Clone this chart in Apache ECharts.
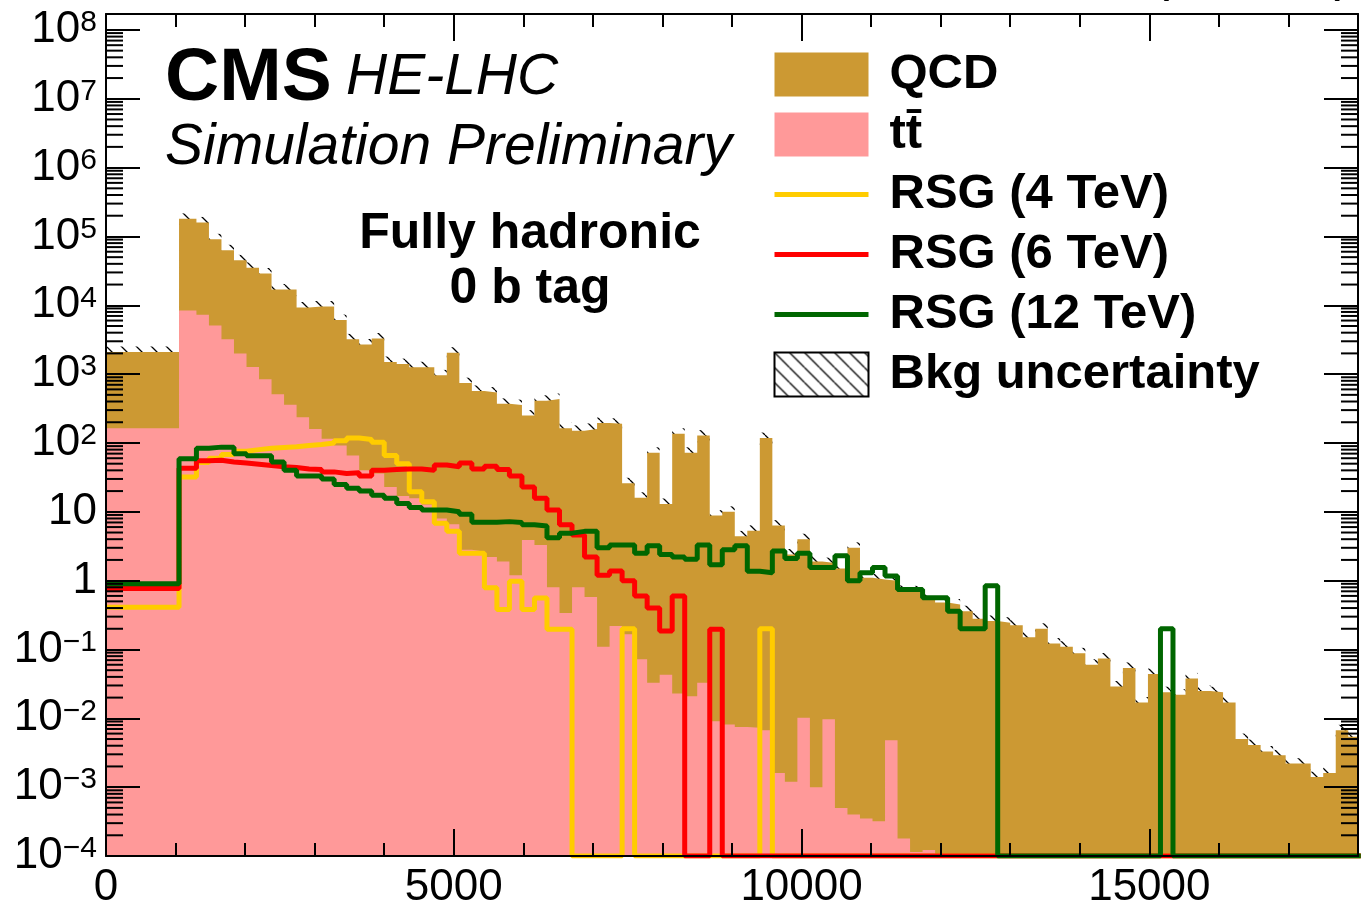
<!DOCTYPE html>
<html><head><meta charset="utf-8">
<script src="https://cdn.jsdelivr.net/npm/echarts@6/dist/echarts.min.js"></script>
<style>html,body{margin:0;padding:0;background:#fff}#c{width:1361px;height:910px}</style>
</head><body><div id="c"></div>
<script>
// ---------- data ----------
// bin layout: first wide bin 0-1050, then 1050-1300, then 180-wide bins from 1300
const firstEdges = [0, 1050];
const regularStart = 1300, regularWidth = 180, regularCount = 93;

const totalBkg = [
 2100, 1.8e5,
 1.6e5, 9.1e4, 6.3e4, 4.5e4, 3.5e4, 2.9e4, 1.7e4, 1.7e4, 9.3e3, 9.6e3,
 9.6e3, 6.1e3, 3.2e3, 2.7e3, 3.3e3, 1500, 1400, 1260, 1260, 960,
 2050, 740, 570, 540, 370, 355, 250, 410, 435, 164,
 150, 160, 195, 190, 26, 16, 72, 13, 136, 72,
 128, 8.8, 10, 4.4, 5.3, 118, 6.3, 2.4, 4.0, 1.9,
 1.8, 1.5, 3.0, 1.1, 1.04, 1.0, 0.71, 0.70, 0.53, 0.48,
 0.45, 0.36, 0.28, 0.26, 0.245, 0.225, 0.15, 0.20, 0.122, 0.11,
 0.088, 0.060, 0.074, 0.029, 0.054, 0.017, 0.044, 0.024, 0.022, 0.038,
 0.025, 0.024, 0.017, 0.005, 0.0041, 0.0033, 0.0029, 0.0022, 0.0022, 0.0014,
 0.0016, 0.0067, 0.0054
];
const ttbar = [
 164, 8400,
 7300, 5100, 3200, 2000, 1270, 840, 510, 360, 237, 160,
 115, 92, 66, 40, 36, 23, 17, 15.7, 12.8, 8.0,
 6.6, 2.8, 2.66, 2.2, 1.9, 1.2, 3.9, 3.3, 0.8, 0.34,
 0.8, 0.58, 0.11, 0.22, 0.166, 0.072, 0.033, 0.043, 0.023, 0.021,
 0.033, 0.0091, 0.0081, 0.0075, 0.0073, 0.0067, 0.0016, 0.0012, 0.0102, 0.001,
 0.0097, 0.0005, 0.0004, 0.00035, 0.00032, 0.0048, 0.00018, 0.000114, 0.000122, 0,
 0, 0, 0, 0, 0, 0, 0, 0, 0, 0,
 0, 0, 0, 0, 0, 0, 0, 0, 0, 0,
 0, 0, 0, 0, 0, 0, 0, 0, 0, 0,
 0, 0, 0
];
const rsg4 = [
 0.41, 32,
 52, 60, 68, 76, 80, 84, 86, 88, 92, 95,
 100, 108, 118, 112, 102, 66, 50, 19.6, 14, 6.8,
 5.2, 2.5, 2.5, 0.79, 0.38, 0.98, 0.38, 0.56, 0.197, 0.197,
 0, 0, 0, 0, 0.2, 0, 0, 0, 0, 0,
 0, 0, 0, 0, 0, 0.2, 0, 0, 0, 0,
 0, 0, 0, 0, 0, 0, 0, 0, 0, 0,
 0, 0, 0, 0, 0, 0, 0, 0, 0, 0,
 0, 0, 0, 0, 0, 0, 0, 0, 0, 0,
 0, 0, 0, 0, 0, 0, 0, 0, 0, 0,
 0, 0, 0
];
const rsg6 = [
 0.77, 43,
 55, 56, 53, 51, 49, 47, 45, 44, 42, 41,
 38, 36, 37, 33, 40, 41, 42, 42, 40, 48,
 45, 51, 42, 46, 41, 33, 23, 15.7, 10.6, 6.5,
 4.6, 2.2, 1.2, 1.38, 1.0, 0.6, 0.40, 0.186, 0.6, 0,
 0, 0.197, 0, 0, 0, 0, 0, 0, 0, 0,
 0, 0, 0, 0, 0, 0, 0, 0, 0, 0,
 0, 0, 0, 0, 0, 0, 0, 0, 0, 0,
 0, 0, 0, 0, 0, 0, 0, 0, 0, 0,
 0, 0, 0, 0, 0, 0, 0, 0, 0, 0,
 0, 0, 0
];
const rsg12 = [
 0.90, 59,
 84, 87, 87, 70, 65, 65, 53, 40, 33, 33,
 30, 25, 22, 20, 17.4, 15.7, 13.2, 11.5, 10.6, 10.6,
 10.0, 9.2, 7.05, 7.05, 7.2, 7.0, 6.5, 6.2, 4.2, 4.9,
 5.2, 5.2, 3.0, 3.3, 3.3, 2.5, 3.2, 2.4, 2.2, 2.04,
 3.3, 1.7, 2.8, 3.2, 1.37, 1.3, 2.7, 2.1, 2.5, 1.55,
 1.55, 2.3, 1.0, 1.3, 1.55, 1.17, 0.745, 0.745, 0.565, 0.565,
 0.36, 0.2, 0.2, 0.84, 0, 0, 0, 0, 0, 0,
 0, 0, 0, 0, 0, 0, 0, 0.2, 0, 0,
 0, 0, 0, 0, 0, 0, 0, 0, 0, 0,
 0, 0, 0
];
const bkgRelUnc = 0.2;
const xLabelValues = [0, 5000, 10000, 15000];
const yLabelExponents = [-4, -3, -2, -1, 0, 1, 2, 3, 4, 5, 6, 7, 8];
const legendNames = ['QCD', 't' + 't\u0304', 'RSG (4 TeV)', 'RSG (6 TeV)', 'RSG (12 TeV)', 'Bkg uncertainty'];

// ---------- setup ----------
const FONT = "'Liberation Sans', Arial, Helvetica, sans-serif";
const X_MIN = 0, X_MAX = 18000;
const Y_MIN = 1e-4, Y_MAX = Math.pow(10, 8.23);
const edges = firstEdges.slice();
for (let k = 0; k <= regularCount; k++) edges.push(regularStart + regularWidth * k);

function stepData(vals) {
  const pts = vals.map((v, i) => [edges[i], v > 0 ? v : Y_MIN]);
  pts.push([edges[vals.length], pts[pts.length - 1][1]]);
  return pts;
}
function makeHatch() {
  const s = 15, c = document.createElement('canvas');
  c.width = s; c.height = s;
  const g = c.getContext('2d');
  g.strokeStyle = '#000'; g.lineWidth = 1.3;
  g.beginPath();
  for (const k of [-s, 0, s]) { g.moveTo(k, 0); g.lineTo(k + s, s); }
  g.stroke();
  return c;
}
const hatchPattern = { image: makeHatch(), repeat: 'repeat' };

const hatchData = [];
totalBkg.forEach((v, i) => {
  if (v > 0) hatchData.push([edges[i], Math.min(edges[i + 1], X_MAX), v * (1 - bkgRelUnc), v * (1 + bkgRelUnc)]);
});
const minorYTicks = [];
for (let e = -4; e < 8; e++) for (let k = 2; k <= 9; k++) minorYTicks.push([0, k * Math.pow(10, e)]);

const colors = { qcd: '#CC9933', tt: '#FF9999', r4: '#FFCC00', r6: '#FF0000', r12: '#006600' };

function lineSeries(name, vals, color) {
  return { type: 'line', name, step: 'end', data: stepData(vals), symbol: 'none', showSymbol: false,
    color, lineStyle: { color, width: 5 }, clip: true, silent: true };
}
function fillSeries(name, vals, color) {
  return { type: 'line', name, step: 'end', data: stepData(vals), symbol: 'none', showSymbol: false,
    color, lineStyle: { width: 0, color }, areaStyle: { color, opacity: 1, origin: 'start' }, clip: true, silent: true };
}
function lineLegend(name, color) {
  return { name, itemStyle: { color: 'rgba(0,0,0,0)', opacity: 0, borderWidth: 0 },
    lineStyle: { color, width: 5, opacity: 1 } };
}

const axisBase = { min: X_MIN, max: X_MAX, gridIndex: 0, z: 5 };
const chart = echarts.init(document.getElementById('c'), null, { renderer: 'canvas' });
chart.setOption({
  animation: false,
  backgroundColor: '#fff',
  grid: { left: 106, right: 1, top: 12, bottom: 50, containLabel: false },
  xAxis: [
    Object.assign({ type: 'value', position: 'bottom', interval: 5000,
      axisLine: { show: true, onZero: false, lineStyle: { color: '#000', width: 2 } },
      axisTick: { show: true, inside: true, length: 27, lineStyle: { color: '#000', width: 2 } },
      axisLabel: { show: true, margin: 10, fontFamily: FONT, fontSize: 44, color: '#000',
        formatter: v => xLabelValues.includes(v) ? String(v) : '' , hideOverlap: false },
      splitLine: { show: false } }, axisBase),
    Object.assign({ type: 'value', position: 'bottom', interval: 1000,
      axisLine: { show: false, onZero: false },
      axisTick: { show: true, inside: true, length: 13, lineStyle: { color: '#000', width: 2 } },
      axisLabel: { show: false }, splitLine: { show: false } }, axisBase),
    Object.assign({ type: 'value', position: 'top', interval: 5000,
      axisLine: { show: true, onZero: false, lineStyle: { color: '#000', width: 2 } },
      axisTick: { show: true, inside: true, length: 27, lineStyle: { color: '#000', width: 2 } },
      axisLabel: { show: false }, splitLine: { show: false } }, axisBase),
    Object.assign({ type: 'value', position: 'top', interval: 1000,
      axisLine: { show: false, onZero: false },
      axisTick: { show: true, inside: true, length: 13, lineStyle: { color: '#000', width: 2 } },
      axisLabel: { show: false }, splitLine: { show: false } }, axisBase)
  ],
  yAxis: [
    { type: 'log', logBase: 10, position: 'left', min: Y_MIN, max: Y_MAX, interval: 1, z: 5,
      axisLine: { show: true, onZero: false, lineStyle: { color: '#000', width: 2 } },
      axisTick: { show: true, inside: true, length: 34, lineStyle: { color: '#000', width: 2 } },
      axisLabel: { show: true, margin: 9, hideOverlap: false, interval: 0,
        formatter: v => {
          const l = Math.log10(v), e = Math.round(l);
          if (Math.abs(l - e) > 1e-6 || !yLabelExponents.includes(e)) return '';
          if (e === 0) return '{p|1}';
          if (e === 1) return '{p|10}';
          return '{b|10}{s|' + (e < 0 ? '\u2212' + (-e) : String(e)) + '}';
        },
        rich: {
          p: { fontFamily: FONT, fontSize: 44, color: '#000', lineHeight: 44, verticalAlign: 'middle' },
          b: { fontFamily: FONT, fontSize: 44, color: '#000', lineHeight: 44, verticalAlign: 'bottom', padding: [8, 0, 0, 0] },
          s: { fontFamily: FONT, fontSize: 30, color: '#000', lineHeight: 30, verticalAlign: 'top' }
        } },
      splitLine: { show: false } },
    { type: 'log', logBase: 10, position: 'right', min: Y_MIN, max: Y_MAX, interval: 1, z: 5,
      axisLine: { show: true, onZero: false, lineStyle: { color: '#000', width: 2 } },
      axisTick: { show: true, inside: true, length: 34, lineStyle: { color: '#000', width: 2 } },
      axisLabel: { show: false }, splitLine: { show: false } }
  ],
  legend: {
    orient: 'vertical', left: 772, top: 50, padding: 0, itemWidth: 94, itemHeight: 44, itemGap: 11,
    selectedMode: false,
    textStyle: { fontFamily: FONT, fontWeight: 'bold', fontSize: 49, color: '#000', lineHeight: 44, padding: [0, 0, 0, 16] },
    data: [
      { name: legendNames[0], icon: 'rect', itemStyle: { color: colors.qcd, borderWidth: 0 } },
      { name: legendNames[1], icon: 'rect', itemStyle: { color: colors.tt, borderWidth: 0 } },
      lineLegend(legendNames[2], colors.r4),
      lineLegend(legendNames[3], colors.r6),
      lineLegend(legendNames[4], colors.r12),
      { name: legendNames[5], icon: 'rect', itemStyle: { color: hatchPattern, borderColor: '#000', borderWidth: 2 } }
    ]
  },
  graphic: [
    { type: 'text', x: 165, y: 79, z: 20, style: { text: 'CMS', font: `bold 75px ${FONT}`, fill: '#000', verticalAlign: 'middle', textVerticalAlign: 'middle' } },
    { type: 'text', x: 346, y: 78, z: 20, style: { text: 'HE-LHC', font: `italic 57px ${FONT}`, fill: '#000', verticalAlign: 'middle', textVerticalAlign: 'middle' } },
    { type: 'text', x: 165, y: 148, z: 20, style: { text: 'Simulation Preliminary', font: `italic 57px ${FONT}`, fill: '#000', verticalAlign: 'middle', textVerticalAlign: 'middle' } },
    { type: 'text', x: 530, y: 234, z: 20, style: { text: 'Fully hadronic', font: `bold 50px ${FONT}`, fill: '#000', align: 'center', textAlign: 'center', verticalAlign: 'middle', textVerticalAlign: 'middle' } },
    { type: 'text', x: 530, y: 289, z: 20, style: { text: '0 b tag', font: `bold 50px ${FONT}`, fill: '#000', align: 'center', textAlign: 'center', verticalAlign: 'middle', textVerticalAlign: 'middle' } },
    { type: 'text', x: 1352, y: 2, z: 20, style: { text: '(27 TeV)', font: `53px ${FONT}`, fill: '#000', align: 'right', textAlign: 'right', verticalAlign: 'bottom', textVerticalAlign: 'bottom' } }
  ],
  series: [
    fillSeries(legendNames[0], totalBkg, colors.qcd),
    fillSeries(legendNames[1], ttbar, colors.tt),
    { type: 'custom', name: legendNames[5], silent: true, clip: true, data: hatchData,
      encode: { x: [0, 1], y: [2, 3] }, itemStyle: { color: hatchPattern },
      renderItem: (params, api) => {
        const p0 = api.coord([api.value(0), api.value(3)]);
        const p1 = api.coord([api.value(1), api.value(2)]);
        return { type: 'rect', shape: { x: p0[0], y: p0[1], width: p1[0] - p0[0], height: p1[1] - p0[1] },
          style: { fill: hatchPattern } };
      } },
    lineSeries(legendNames[2], rsg4, colors.r4),
    lineSeries(legendNames[3], rsg6, colors.r6),
    lineSeries(legendNames[4], rsg12, colors.r12),
    { type: 'custom', silent: true, clip: false, z: 6, data: minorYTicks, encode: { x: 0, y: 1 },
      renderItem: (params, api) => {
        const v = api.value(1);
        const l = api.coord([X_MIN, v]), r = api.coord([X_MAX, v]);
        return { type: 'group', children: [
          { type: 'line', shape: { x1: l[0], y1: l[1], x2: l[0] + 17, y2: l[1] }, style: { stroke: '#000', lineWidth: 2 } },
          { type: 'line', shape: { x1: r[0], y1: r[1], x2: r[0] - 17, y2: r[1] }, style: { stroke: '#000', lineWidth: 2 } }
        ] };
      } }
  ]
});
</script>
</body></html>
